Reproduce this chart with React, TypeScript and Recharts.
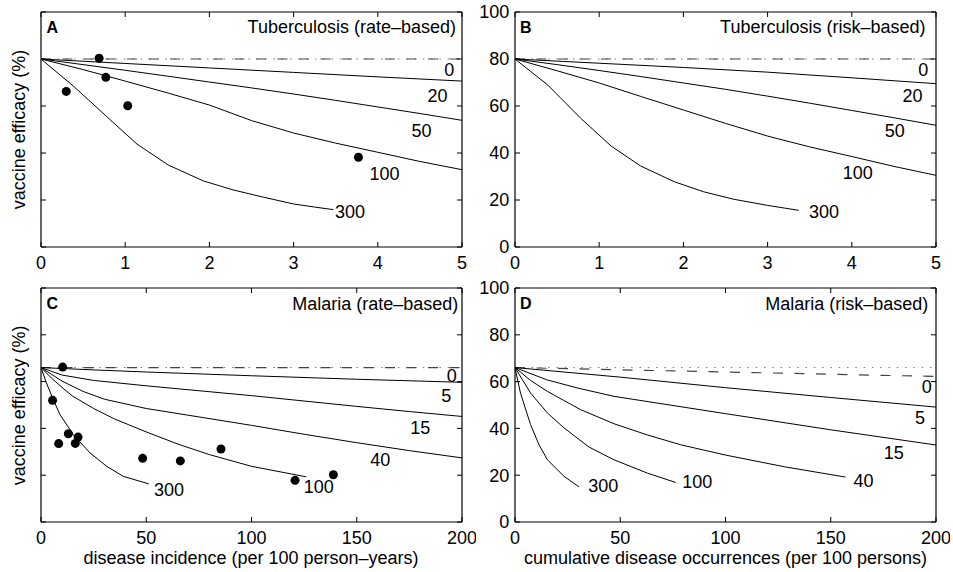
import React from 'react';
import { ComposedChart, Line, Scatter, XAxis, YAxis } from 'recharts';

const FONT = '"Liberation Sans", Arial, Helvetica, sans-serif';

// ---------- tick labels ----------
const tbXTicks = [0, 1, 2, 3, 4, 5];
const malXTicks = [0, 50, 100, 150, 200];
const yTicks = [0, 20, 40, 60, 80, 100];

// ---------- Panel A: Tuberculosis (rate-based) ----------
const aRefX = [0, 5];
const aRefY = [80, 80];
const aC20X = [0, 1, 2, 3, 4, 5];
const aC20Y = [80, 78.1, 76.2, 74.3, 72.4, 70.6];
const aC50X = [0, 0.5, 1, 1.5, 2, 2.5, 3, 3.5, 4, 4.5, 5];
const aC50Y = [80, 77.6, 75.2, 72.7, 70.2, 67.7, 65.1, 62.4, 59.6, 56.8, 53.9];
const aC100X = [0, 0.5, 1, 1.5, 2, 2.5, 3, 3.5, 4, 4.5, 5];
const aC100Y = [80, 75.5, 70.6, 65.6, 60.4, 53.8, 48.5, 44.2, 40.3, 36.4, 32.9];
const aC300X = [0, 0.39, 0.78, 1.14, 1.51, 1.93, 2.28, 2.63, 3.0, 3.25, 3.47];
const aC300Y = [80, 68.3, 55.5, 43.8, 34.9, 28.1, 24.3, 21.3, 18.3, 17.0, 15.9];
const aDotX = [0.69, 0.77, 0.3, 1.03, 3.77];
const aDotY = [80.3, 72.2, 66.2, 60.1, 38.2];
const aLabelText = ['0', '20', '50', '100', '300'];
const aLabelX = [4.85, 4.71, 4.52, 4.08, 3.67];
const aLabelY = [75.7, 64.3, 49.6, 31.2, 14.9];

// ---------- Panel B: Tuberculosis (risk-based) ----------
const bRefX = [0, 5];
const bRefY = [80, 80];
const bC20X = [0, 1, 2, 3, 4, 5];
const bC20Y = [80, 78.2, 76.4, 74.4, 72.0, 69.5];
const bC50X = [0, 0.5, 1, 1.5, 2, 2.5, 3, 3.5, 4, 4.5, 5];
const bC50Y = [80, 77.6, 75.1, 72.5, 69.8, 67.1, 64.2, 61.2, 58.1, 55.0, 51.8];
const bC100X = [0, 0.5, 1, 1.5, 2, 2.5, 3, 3.5, 4, 4.5, 5];
const bC100Y = [80, 75.0, 69.8, 64.0, 58.3, 52.6, 47.2, 42.6, 38.5, 34.3, 30.5];
const bC300X = [0, 0.39, 0.78, 1.14, 1.49, 1.89, 2.24, 2.6, 3.0, 3.37];
const bC300Y = [80, 68.9, 54.8, 43.0, 34.5, 27.8, 23.5, 20.3, 17.7, 15.6];
const bLabelText = ['0', '20', '50', '100', '300'];
const bLabelX = [4.85, 4.72, 4.51, 4.07, 3.67];
const bLabelY = [75.7, 64.5, 49.6, 31.6, 15.0];

// ---------- Panel C: Malaria (rate-based) ----------
const cRefX = [0, 200];
const cRefY = [66, 66];
const cC5X = [0, 25, 50, 100, 150, 200];
const cC5Y = [66, 65.0, 64.1, 62.5, 61.0, 59.7];
const cC15X = [0, 10, 25, 50, 75, 100, 125, 150, 175, 200];
const cC15Y = [66, 62.8, 60.5, 58.2, 56.1, 54.0, 51.7, 49.4, 47.2, 45.1];
const cC40X = [0, 10, 20, 30, 50, 75, 100, 125, 150, 175, 200];
const cC40Y = [66, 60.2, 55.8, 52.5, 48.5, 44.9, 41.3, 37.5, 33.9, 30.5, 27.4];
const cC100X = [0, 5, 10, 15, 25, 35, 50, 65, 80, 100, 126];
const cC100Y = [66, 61.5, 57.5, 53.8, 48.5, 44.0, 38.5, 33.3, 28.8, 23.8, 19.3];
const cC300X = [0, 2.6, 5.5, 9, 15.4, 23.3, 31.2, 39.1, 51.2];
const cC300Y = [66, 59.4, 53.0, 45.9, 37.3, 29.5, 23.8, 19.5, 16.3];
const cDotX = [10.3, 5.5, 13, 8.4, 17.6, 16.3, 48.3, 66.2, 85.5, 120.7, 138.9];
const cDotY = [66.2, 52, 37.7, 33.5, 36.3, 33.6, 27.2, 26.1, 31.2, 17.8, 20.2];
const cLabelText = ['0', '5', '15', '40', '100', '300'];
const cLabelX = [195.1, 192.5, 180.2, 161.2, 131.9, 60.8];
const cLabelY = [62.6, 53.9, 40.5, 26.6, 15.0, 13.7];

// ---------- Panel D: Malaria (risk-based) ----------
const dRefX = [0, 200];
const dRefY = [66, 66];
const dDashX = [0, 200];
const dDashY = [66, 62.2];
const dC5X = [0, 50, 100, 150, 200];
const dC5Y = [66, 61.9, 57.4, 53.2, 49.1];
const dC15X = [0, 15, 30, 47, 100, 150, 200];
const dC15Y = [66, 60.8, 57.2, 53.7, 46.3, 39.4, 32.9];
const dC40X = [0, 7.4, 15.4, 31.2, 47, 62.9, 78.7, 100, 128, 157];
const dC40Y = [66, 60.5, 55.8, 48.0, 42.0, 37.2, 33.0, 28.6, 23.6, 19.2];
const dC100X = [0, 7.4, 15.4, 23.3, 35.2, 47, 62.9, 76.3];
const dC100Y = [66, 55.1, 46.6, 40.2, 32.0, 26.6, 20.9, 16.9];
const dC300X = [0, 2.6, 7.4, 11.4, 15.4, 23.3, 30.4];
const dC300Y = [66, 55.1, 41.6, 33.0, 26.6, 19.5, 15.0];
const dLabelText = ['0', '5', '15', '40', '100', '300'];
const dLabelX = [195.6, 192.4, 179.9, 165.6, 86.6, 41.9];
const dLabelY = [58.0, 44.8, 29.6, 17.9, 17.4, 15.7];

type Pt = { x: number; y: number; label?: string };
const zip = (xs: number[], ys: number[]): Pt[] => xs.map((x, i) => ({ x, y: ys[i] }));
const zipL = (xs: number[], ys: number[], ls: string[]): Pt[] =>
  xs.map((x, i) => ({ x, y: ys[i], label: ls[i] }));

const LabelShape = (props: any) => {
  const { cx, cy, payload } = props;
  return (
    <text x={cx} y={cy} dy="0.36em" textAnchor="middle" fontSize={18} fontFamily={FONT} fill="#000">
      {payload.label}
    </text>
  );
};

const DotShape = (props: any) => <circle cx={props.cx} cy={props.cy} r={4.5} fill="#000" />;

const W = 476;

type PanelProps = {
  left: number;
  top: number;
  height: number;
  xDomain: [number, number];
  xTicks: number[];
  yLabels: boolean;
  dotted: Pt[];
  dashed: Pt[];
  curves: Pt[][];
  dots: Pt[];
  labels: Pt[];
};

const Panel = ({ left, top, height, xDomain, xTicks, yLabels, dotted, dashed, curves, dots, labels }: PanelProps) => {
  const tickStyle = { fontSize: 18, fill: '#000', fontFamily: FONT };
  return (
    <div style={{ position: 'absolute', left, top, width: W, height }}>
      <ComposedChart width={W} height={height} margin={{ top: 10, right: 10, bottom: 3, left: 0 }}>
        <XAxis
          xAxisId="b"
          type="number"
          dataKey="x"
          domain={xDomain}
          ticks={xTicks}
          allowDataOverflow
          interval={0}
          tickSize={-5}
          tickMargin={14.5}
          height={30}
          axisLine={{ stroke: '#000', strokeWidth: 1.2 }}
          tickLine={{ stroke: '#000' }}
          tick={tickStyle}
        />
        <XAxis
          xAxisId="t"
          orientation="top"
          type="number"
          dataKey="x"
          domain={xDomain}
          ticks={xTicks}
          allowDataOverflow
          interval={0}
          tickSize={-5}
          height={2}
          axisLine={{ stroke: '#000', strokeWidth: 1.2 }}
          tickLine={{ stroke: '#000' }}
          tickFormatter={() => ''}
        />
        <YAxis
          yAxisId="l"
          type="number"
          dataKey="y"
          domain={[0, 100]}
          ticks={yTicks}
          allowDataOverflow
          interval={0}
          tickSize={-5}
          tickMargin={10.7}
          width={41}
          axisLine={{ stroke: '#000', strokeWidth: 1.2 }}
          tickLine={{ stroke: '#000' }}
          tick={tickStyle}
          tickFormatter={yLabels ? (v: number) => String(v) : () => ''}
        />
        <YAxis
          yAxisId="r"
          orientation="right"
          type="number"
          dataKey="y"
          domain={[0, 100]}
          ticks={yTicks}
          allowDataOverflow
          interval={0}
          tickSize={-5}
          width={4}
          axisLine={{ stroke: '#000', strokeWidth: 1.2 }}
          tickLine={{ stroke: '#000' }}
          tickFormatter={() => ''}
        />
        <Line
          xAxisId="b"
          yAxisId="l"
          data={dotted}
          dataKey="y"
          type="linear"
          stroke="#777"
          strokeWidth={1}
          strokeDasharray="1.5 6.8"
          dot={false}
          activeDot={false}
          isAnimationActive={false}
        />
        <Line
          xAxisId="b"
          yAxisId="l"
          data={dashed}
          dataKey="y"
          type="linear"
          stroke="#444"
          strokeWidth={1.2}
          strokeDasharray="10 11.5"
          dot={false}
          activeDot={false}
          isAnimationActive={false}
        />
        {curves.map((c, i) => (
          <Line
            key={i}
            xAxisId="b"
            yAxisId="l"
            data={c}
            dataKey="y"
            type="linear"
            stroke="#000"
            strokeWidth={1}
            dot={false}
            activeDot={false}
            isAnimationActive={false}
          />
        ))}
        {dots.length > 0 && (
          <Scatter xAxisId="b" yAxisId="l" data={dots} dataKey="y" shape={DotShape} isAnimationActive={false} />
        )}
        <Scatter xAxisId="b" yAxisId="l" data={labels} dataKey="y" shape={LabelShape} isAnimationActive={false} />
      </ComposedChart>
    </div>
  );
};

export default function App() {
  return (
    <div
      style={{
        position: 'absolute',
        left: 0,
        top: 0,
        width: 953,
        height: 572,
        background: '#fff',
        fontFamily: FONT,
        overflow: 'hidden',
      }}
    >
      <Panel
        left={0}
        top={0}
        height={280}
        xDomain={[0, 5]}
        xTicks={tbXTicks}
        yLabels={false}
        dotted={zip(aRefX, aRefY)}
        dashed={zip(aRefX, aRefY)}
        curves={[zip(aC20X, aC20Y), zip(aC50X, aC50Y), zip(aC100X, aC100Y), zip(aC300X, aC300Y)]}
        dots={zip(aDotX, aDotY)}
        labels={zipL(aLabelX, aLabelY, aLabelText)}
      />
      <Panel
        left={474}
        top={0}
        height={280}
        xDomain={[0, 5]}
        xTicks={tbXTicks}
        yLabels={true}
        dotted={zip(bRefX, bRefY)}
        dashed={zip(bRefX, bRefY)}
        curves={[zip(bC20X, bC20Y), zip(bC50X, bC50Y), zip(bC100X, bC100Y), zip(bC300X, bC300Y)]}
        dots={[]}
        labels={zipL(bLabelX, bLabelY, bLabelText)}
      />
      <Panel
        left={0}
        top={276}
        height={279}
        xDomain={[0, 200]}
        xTicks={malXTicks}
        yLabels={false}
        dotted={zip(cRefX, cRefY)}
        dashed={zip(cRefX, cRefY)}
        curves={[zip(cC5X, cC5Y), zip(cC15X, cC15Y), zip(cC40X, cC40Y), zip(cC100X, cC100Y), zip(cC300X, cC300Y)]}
        dots={zip(cDotX, cDotY)}
        labels={zipL(cLabelX, cLabelY, cLabelText)}
      />
      <Panel
        left={474}
        top={276}
        height={279}
        xDomain={[0, 200]}
        xTicks={malXTicks}
        yLabels={true}
        dotted={zip(dRefX, dRefY)}
        dashed={zip(dDashX, dDashY)}
        curves={[zip(dC5X, dC5Y), zip(dC15X, dC15Y), zip(dC40X, dC40Y), zip(dC100X, dC100Y), zip(dC300X, dC300Y)]}
        dots={[]}
        labels={zipL(dLabelX, dLabelY, dLabelText)}
      />
      <svg
        width={953}
        height={572}
        style={{ position: 'absolute', left: 0, top: 0, pointerEvents: 'none' }}
        fontFamily={FONT}
      >
        <text x={46.5} y={32.5} fontSize={16} fontWeight="bold" fill="#000">A</text>
        <text x={520} y={32.5} fontSize={16} fontWeight="bold" fill="#000">B</text>
        <text x={46.5} y={309.3} fontSize={16} fontWeight="bold" fill="#000">C</text>
        <text x={520} y={309.3} fontSize={16} fontWeight="bold" fill="#000">D</text>
        <text x={456} y={33} fontSize={18} textAnchor="end" fill="#000">Tuberculosis (rate–based)</text>
        <text x={925.5} y={33} fontSize={18} textAnchor="end" fill="#000">Tuberculosis (risk–based)</text>
        <text x={458.3} y={309.5} fontSize={18} textAnchor="end" fill="#000">Malaria (rate–based)</text>
        <text x={928.3} y={309.5} fontSize={18} textAnchor="end" fill="#000">Malaria (risk–based)</text>
        <text x={25} y={129.5} fontSize={18} textAnchor="middle" fill="#000" transform="rotate(-90 25 129.5)">
          vaccine efficacy (%)
        </text>
        <text x={25} y={405.3} fontSize={18} textAnchor="middle" fill="#000" transform="rotate(-90 25 405.3)">
          vaccine efficacy (%)
        </text>
        <text x={251} y={564} fontSize={18} textAnchor="middle" fill="#000">disease incidence (per 100 person–years)</text>
        <text x={725.5} y={564} fontSize={18} textAnchor="middle" fill="#000">cumulative disease occurrences (per 100 persons)</text>
      </svg>
    </div>
  );
}
